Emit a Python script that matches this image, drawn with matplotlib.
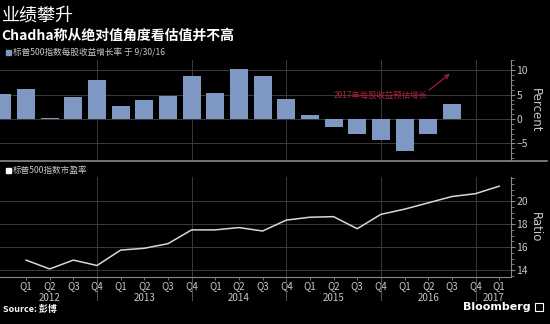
import matplotlib
matplotlib.use("Agg")
import matplotlib.pyplot as plt
import numpy as np
from matplotlib.ticker import MultipleLocator

plt.rcParams['font.family'] = ['Noto Sans CJK SC', 'DejaVu Sans']

# ---- data ----
bar_quarters = ["Q4 2011", "Q1 2012", "Q2 2012", "Q3 2012", "Q4 2012",
                "Q1 2013", "Q2 2013", "Q3 2013", "Q4 2013",
                "Q1 2014", "Q2 2014", "Q3 2014", "Q4 2014",
                "Q1 2015", "Q2 2015", "Q3 2015", "Q4 2015",
                "Q1 2016", "Q2 2016", "Q3 2016"]
eps_growth = [5.1, 6.2, 0.2, 4.6, 8.1, 2.7, 3.8, 4.8, 8.8, 5.4, 10.3, 8.8,
              4.2, 0.75, -1.6, -3.0, -4.4, -6.6, -3.0, 3.0]

line_quarters = ["Q1 2012", "Q2 2012", "Q3 2012", "Q4 2012",
                 "Q1 2013", "Q2 2013", "Q3 2013", "Q4 2013",
                 "Q1 2014", "Q2 2014", "Q3 2014", "Q4 2014",
                 "Q1 2015", "Q2 2015", "Q3 2015", "Q4 2015",
                 "Q1 2016", "Q2 2016", "Q3 2016", "Q4 2016", "Q1 2017"]
pe_ratio = [14.87, 14.1, 14.87, 14.4, 15.74, 15.9, 16.3, 17.5, 17.5, 17.7, 17.4,
            18.35, 18.6, 18.65, 17.6, 18.85, 19.3, 19.85, 20.4, 20.65, 21.3]

axis_quarters = ["Q4 2011"] + line_quarters
tick_labels = [q.split()[0] for q in line_quarters]
year_labels = ["2012", "2013", "2014", "2015", "2016", "2017"]

title = "业绩攀升"
subtitle = "Chadha称从绝对值角度看估值并不高"
legend_top = "标普500指数每股收益增长率 于 9/30/16"
legend_bottom = "标普500指数市盈率"
annot = "2017年每股收益预估增长"

# ---- style ----
BG = "black"
BAR = "#7f97c3"
GRID = "#3a3a3a"
TXT = "#c8c8c8"
SPINE = "#8a8a8a"

pos = {q: i for i, q in enumerate(axis_quarters)}
xb = [pos[q] for q in bar_quarters]
xl = [pos[q] for q in line_quarters]

fig = plt.figure(figsize=(5.5, 3.24), dpi=100, facecolor=BG)
W, H = 550, 324

def mk_ax(top_px, bot_px):
    ax = fig.add_axes([0, 1 - bot_px / H, 511 / W, (bot_px - top_px) / H])
    ax.set_facecolor(BG)
    ax.set_xlim(-0.1, 21.5)
    for s in ["top", "left", "bottom"]:
        ax.spines[s].set_visible(False)
    ax.spines["right"].set_color(SPINE)
    ax.spines["right"].set_linewidth(0.8)
    ax.yaxis.tick_right()
    ax.yaxis.set_label_position("right")
    ax.tick_params(axis="y", colors=SPINE, labelcolor=TXT, labelsize=7.5,
                   length=3, width=0.8, pad=1, direction="out")
    ax.tick_params(axis="y", which="minor", colors=SPINE, length=2, width=0.6)
    ax.yaxis.grid(True, color=GRID, linewidth=0.7)
    for q in axis_quarters:
        if q.startswith("Q4") and q != "Q4 2011":
            ax.axvline(pos[q], color=GRID, linewidth=0.7, zorder=0)
    ax.set_axisbelow(True)
    return ax

# top panel
ax1 = mk_ax(60, 160)
ax1.bar(xb, eps_growth, width=0.76, color=BAR, zorder=2)
ax1.set_ylim(-8.4, 12.1)
ax1.set_yticks([-5, 0, 5, 10])
ax1.yaxis.set_minor_locator(MultipleLocator(1))
ax1.set_xticks([])
ax1.set_ylabel("Percent", color=TXT, fontsize=8.5, rotation=-90, labelpad=10,
               family=['DejaVu Sans'])
ax1.annotate("", xy=(pos["Q3 2016"], 9.6), xytext=(pos["Q2 2016"] - 0.05, 5.6),
             arrowprops=dict(arrowstyle="->", color="#b0223a", lw=0.8,
                             mutation_scale=7))
ax1.text(pos["Q4 2015"], 4.9, annot, color="#b0223a", fontsize=6.0,
         ha="center", va="center")

# bottom panel
ax2 = mk_ax(177, 277)
ax2.plot(xl, pe_ratio, color="#d8d8d8", linewidth=1.1, zorder=3)
ax2.set_ylim(13.4, 22.1)
ax2.set_yticks([14, 16, 18, 20])
ax2.yaxis.set_minor_locator(MultipleLocator(0.5))
ax2.set_ylabel("Ratio", color=TXT, fontsize=8.5, rotation=-90, labelpad=10,
               family=['DejaVu Sans'])
ax2.spines["bottom"].set_visible(True)
ax2.spines["bottom"].set_color(SPINE)
ax2.spines["bottom"].set_linewidth(0.8)
ax2.set_xticks(xl)
ax2.set_xticklabels(tick_labels)
ax2.tick_params(axis="x", colors=SPINE, labelcolor=TXT, labelsize=7,
                length=2, width=0.6, pad=1)

# year labels and separators
for i, y in enumerate(year_labels):
    if y == "2017":
        xc = pos["Q1 2017"] - 0.25
    else:
        xc = pos["Q2 " + y]
    ax2.text(xc, -0.21, y, transform=ax2.get_xaxis_transform(), ha="center",
             va="center", color=TXT, fontsize=7)
for q in axis_quarters:
    if q.startswith("Q4") and q != "Q4 2011":
        ax2.plot([pos[q], pos[q]], [0, -0.23], transform=ax2.get_xaxis_transform(),
                 color="#555555", linewidth=0.7, clip_on=False)

# divider line
fig.add_artist(plt.Line2D([0, 547 / W], [1 - 161 / H, 1 - 161 / H],
                          color="#8a8a8a", linewidth=1.2))

# titles
fig.text(0.003, 1 - 16 / H, title, color="white", fontsize=13, va="center")
fig.text(0.003, 1 - 36 / H, subtitle, color="white", fontsize=10,
         va="center", fontweight="bold")

# legends
fig.add_artist(plt.Rectangle((6 / W, 1 - 55 / H), 5 / W, 5 / H, color=BAR))
fig.text(13 / W, 1 - 52.5 / H, legend_top, color=TXT, fontsize=6.2, va="center")
fig.add_artist(plt.Rectangle((6 / W, 1 - 172.5 / H), 5 / W, 5 / H, color="white"))
fig.text(13 / W, 1 - 170 / H, legend_bottom, color=TXT, fontsize=6.2, va="center")

# footer
fig.text(0.006, 1 - 309 / H, "Source: 彭博", color="white", fontsize=6.5,
         fontweight="bold", va="center")
fig.text(531 / W, 1 - 307 / H, "Bloomberg", color="white", fontsize=8,
         fontweight="bold", va="center", ha="right", family=['DejaVu Sans'])
fig.add_artist(plt.Rectangle((535 / W, 1 - 311 / H), 8 / W, 8 / H,
                             facecolor="none", edgecolor="white", linewidth=0.8))

fig.savefig("out.png", dpi=100, facecolor=BG)
